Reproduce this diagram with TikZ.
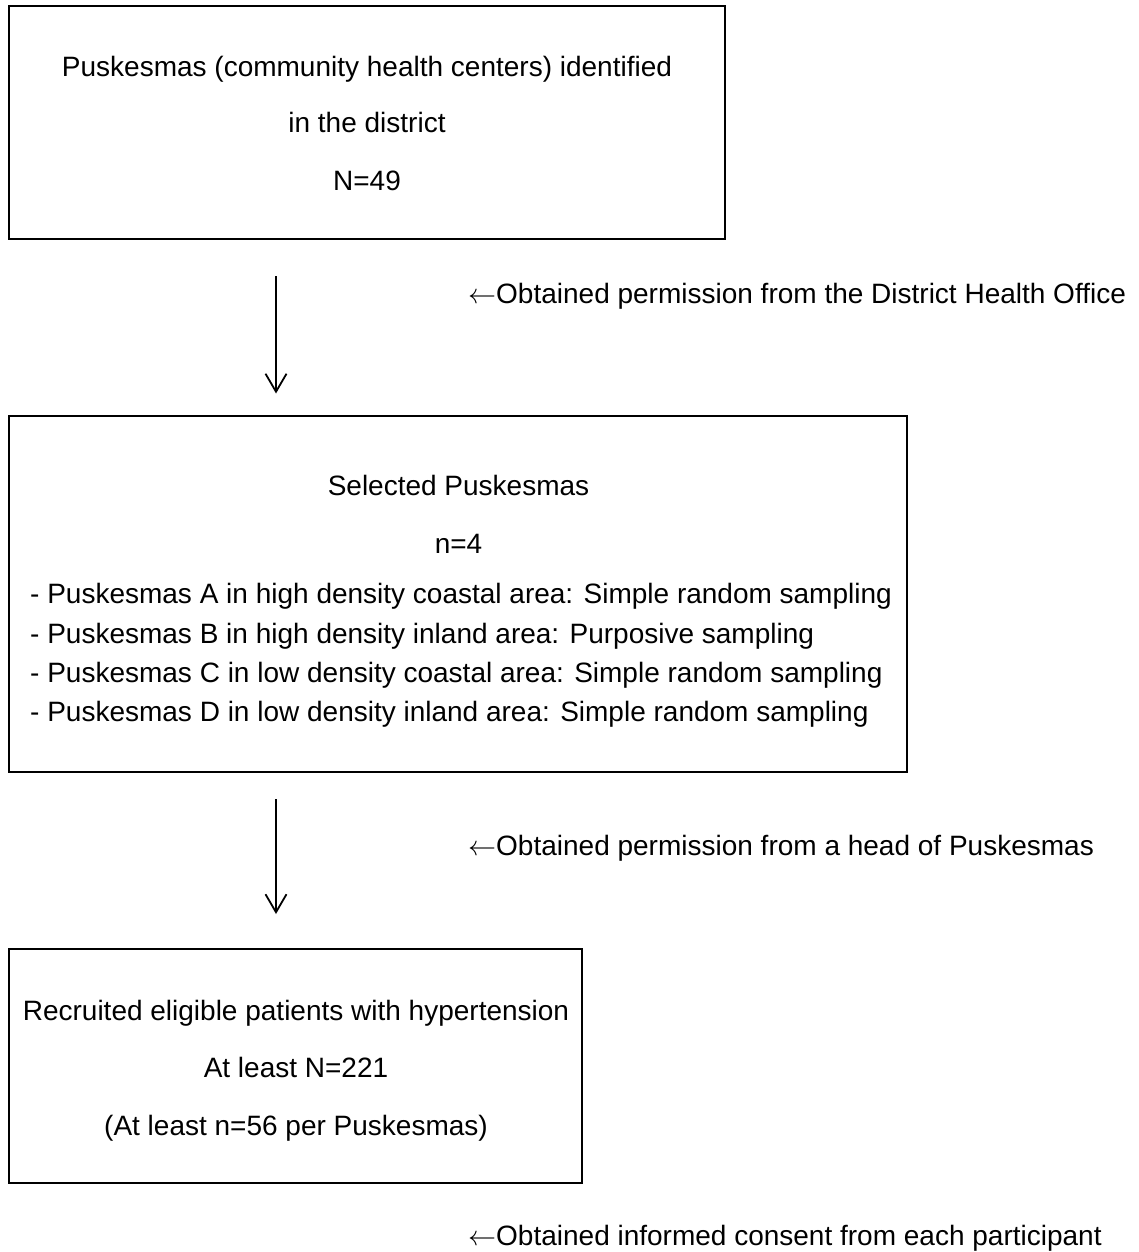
\RequirePackage{fix-cm}
\documentclass[tikz,border=0pt]{standalone}
\usepackage{fontspec}
\setmainfont{Liberation Sans}
\usetikzlibrary{arrows.meta}
\tikzset{
  box/.style={draw=black, line width=1.2pt, inner sep=0pt, outer sep=0pt, anchor=north west},
  txt/.style={inner sep=0pt, font=\fontsize{28}{34}\selectfont, anchor=base},
  ltxt/.style={txt, anchor=base west},
  arr/.style={line width=1.8pt, -{Straight Barb[length=18pt,width=21pt,line width=1.8pt]}}
}
\begin{document}
\begin{tikzpicture}[x=1pt,y=-1pt]
\useasboundingbox (0,0) rectangle (1139,1252);
% boxes
\node[box, minimum width=716pt, minimum height=233pt] (b1) at (9,6) {};
\node[box, minimum width=898pt, minimum height=356pt] (b2) at (9,416) {};
\node[box, minimum width=573pt, minimum height=234pt] (b3) at (9,949) {};
% box 1 text
\node[txt] (t11) at (367,77) {Puskesmas (community health centers) identified};
\node[txt] (t12) at (367,133) {in the district};
\node[txt] (t13) at (367,190) {N=49};
% box 2 text
\node[txt] (t21) at (458.5,495) {Selected Puskesmas};
\node[txt] (t22) at (458.5,553) {n=4};
\node[ltxt] (t23) at (30,603) {- Puskesmas A in high density coastal area: Simple random sampling};
\node[ltxt] (t24) at (30,643) {- Puskesmas B in high density inland area: Purposive sampling};
\node[ltxt] (t25) at (30,682) {- Puskesmas C in low density coastal area: Simple random sampling};
\node[ltxt] (t26) at (30,721) {- Puskesmas D in low density inland area: Simple random sampling};
% box 3 text
\node[txt] (t31) at (296,1020) {Recruited eligible patients with hypertension};
\node[txt] (t32) at (296,1077) {At least N=221};
\node[txt] (t33) at (296,1135) {(At least n=56 per Puskesmas)};
% side labels
\node[ltxt] (l1) at (468,303) {$\leftarrow$Obtained permission from the District Health Office};
\node[ltxt] (l2) at (468,855) {$\leftarrow$Obtained permission from a head of Puskesmas};
\node[ltxt] (l3) at (468,1245) {$\leftarrow$Obtained informed consent from each participant};
% connectors
\coordinate (ax) at (276,0);
\draw[arr, shorten <=37pt, shorten >=22.5pt] (b1.south -| ax) -- (b2.north -| ax);
\draw[arr, shorten <=27pt, shorten >=35pt] (b2.south -| ax) -- (b3.north -| ax);
\end{tikzpicture}
\end{document}
